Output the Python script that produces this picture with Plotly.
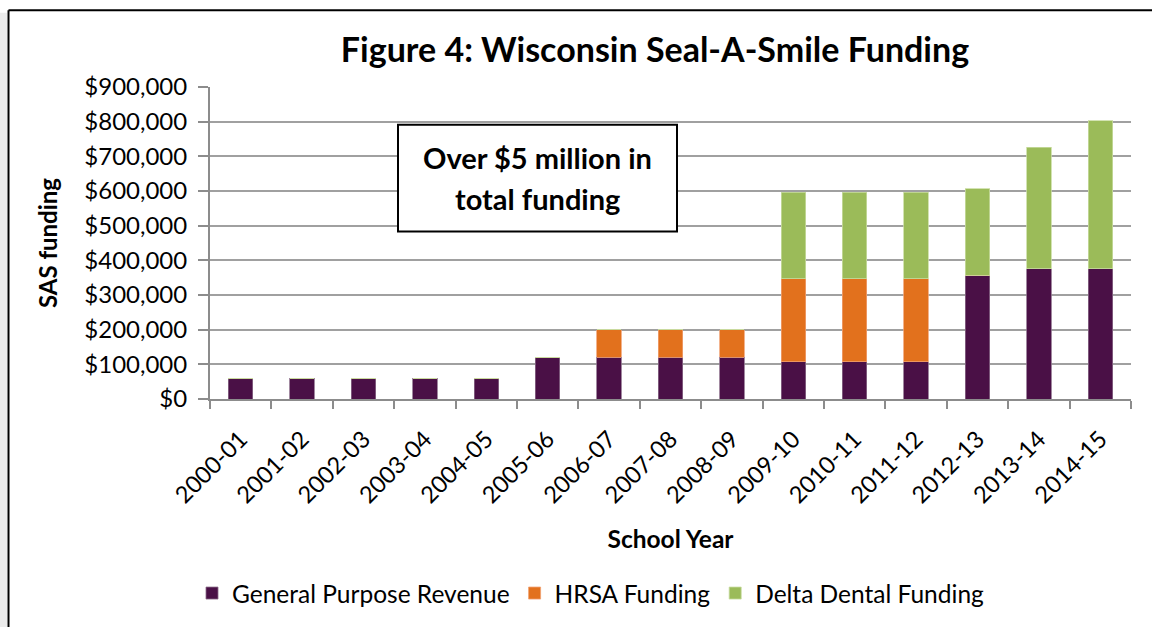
import plotly.graph_objects as go

years = ["2000-01", "2001-02", "2002-03", "2003-04", "2004-05", "2005-06", "2006-07",
         "2007-08", "2008-09", "2009-10", "2010-11", "2011-12", "2012-13", "2013-14", "2014-15"]
gpr = [60000, 60000, 60000, 60000, 60000, 120000, 120000, 120000, 120000,
       107000, 107000, 107000, 357000, 376000, 376000]
hrsa = [0, 0, 0, 0, 0, 0, 80000, 80000, 80000, 240000, 240000, 240000, 0, 0, 0]
delta = [0, 0, 0, 0, 0, 0, 0, 0, 0, 250000, 250000, 250000, 250000, 350000, 426000]
y_ticks = [0, 100000, 200000, 300000, 400000, 500000, 600000, 700000, 800000, 900000]
y_tick_labels = ["$0", "$100,000", "$200,000", "$300,000", "$400,000", "$500,000",
                 "$600,000", "$700,000", "$800,000", "$900,000"]

FONT = "Lato"
W, H = 1152, 627
L, R, T, B = 210, 21, 87, 225
PW, PH = W - L - R, H - T - B


def px_x(p):
    return (p - L) / PW


def px_y(p):
    return (H - B - p) / PH


fig = go.Figure()
fig.add_bar(x=years, y=gpr, name="General Purpose Revenue",
            marker=dict(color="#4a1046", line=dict(color="#8a6a88", width=0.8)))
fig.add_bar(x=years, y=hrsa, name="HRSA Funding",
            marker=dict(color="#e2711d", line=dict(color="#f0a070", width=0.8)))
fig.add_bar(x=years, y=delta, name="Delta Dental Funding",
            marker=dict(color="#9bbb59", line=dict(color="#c8dca0", width=0.8)))

fig.update_layout(
    width=W, height=H,
    margin=dict(l=L, r=R, t=T, b=B),
    barmode="stack",
    bargap=0.6,
    plot_bgcolor="white",
    paper_bgcolor="white",
    font=dict(family=FONT, color="black", size=24),
    title=dict(text="<b>Figure 4: Wisconsin Seal-A-Smile Funding</b>",
               x=px_x(655), xref="paper", xanchor="center",
               y=1 - 50 / H, yanchor="middle",
               font=dict(family=FONT, size=34, color="black")),
    legend=dict(orientation="h", x=px_x(591), xanchor="center", y=px_y(598),
                yanchor="middle", font=dict(family=FONT, size=24.5, color="black"),
                traceorder="normal", itemclick=False,
                bgcolor="rgba(0,0,0,0)"),
    showlegend=True,
)

fig.update_xaxes(
    type="category",
    tickangle=-45,
    tickson="boundaries",
    ticks="outside", ticklen=8, tickcolor="#8c8c8c", tickwidth=2,
    showline=True, linecolor="#8c8c8c", linewidth=2,
    showgrid=False,
    ticklabelstandoff=15,
    tickfont=dict(family=FONT, size=23.5, color="black"),
    title=dict(text="<b>School Year</b>", standoff=24,
               font=dict(family=FONT, size=24.5, color="black")),
)
fig.update_yaxes(
    range=[0, 900000],
    tickvals=y_ticks, ticktext=y_tick_labels,
    ticks="outside", ticklen=10, tickcolor="#8c8c8c", tickwidth=2,
    showline=True, linecolor="#8c8c8c", linewidth=2,
    showgrid=True, gridcolor="#a0a0a0", gridwidth=2,
    zeroline=False,
    ticklabelstandoff=6,
    tickfont=dict(family=FONT, size=24, color="black"),
    title=dict(text="<b>SAS funding</b>", standoff=20,
               font=dict(family=FONT, size=24, color="black")),
)

# outer frame (partially visible in the reference)
fig.add_shape(type="rect", xref="paper", yref="paper",
              x0=px_x(0), x1=px_x(7), y0=px_y(640), y1=px_y(12),
              fillcolor="#ececec", line=dict(width=0), layer="below")
fig.add_shape(type="line", xref="paper", yref="paper",
              x0=px_x(8.5), x1=px_x(8.5), y0=px_y(9.5), y1=px_y(640),
              line=dict(color="black", width=2))
fig.add_shape(type="line", xref="paper", yref="paper",
              x0=px_x(8.5), x1=px_x(1160), y0=px_y(9.5), y1=px_y(9.5),
              line=dict(color="black", width=2))

# text box annotation
fig.add_shape(type="rect", xref="paper", yref="paper",
              x0=px_x(398), x1=px_x(677), y0=px_y(233), y1=px_y(125),
              fillcolor="white", line=dict(color="black", width=2), layer="above")
fig.add_annotation(xref="paper", yref="paper", x=px_x(537.5), y=px_y(158),
                   xanchor="center", yanchor="middle",
                   text="<b>Over $5 million in</b>",
                   showarrow=False, align="center",
                   font=dict(family=FONT, size=29, color="black"))
fig.add_annotation(xref="paper", yref="paper", x=px_x(537.5), y=px_y(200),
                   xanchor="center", yanchor="middle",
                   text="<b>total funding</b>",
                   showarrow=False, align="center",
                   font=dict(family=FONT, size=29, color="black"))

fig.write_html("out.html")
